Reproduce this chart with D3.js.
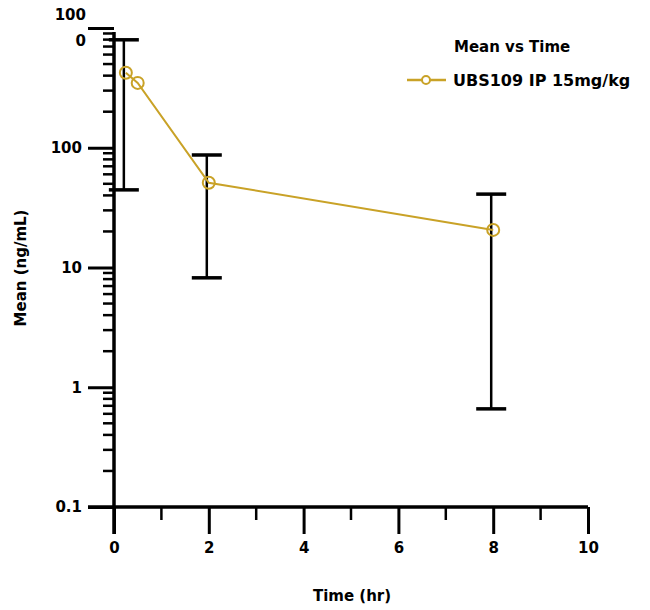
<!DOCTYPE html>
<html><head><meta charset="utf-8">
<script src="https://cdn.jsdelivr.net/npm/d3@7"></script>
<style>body{margin:0;background:#fff}text{font-family:"DejaVu Sans",Verdana,sans-serif;font-weight:bold}</style>
</head><body><svg id="c" width="650" height="610"></svg>
<script>
const times = [0.25, 0.5, 2, 8];
const means = [423, 348, 51, 20.6];
const errLow = [44.5, null, 8.2, 0.66];
const errHigh = [797, null, 87, 41];
const xTicks = [0, 2, 4, 6, 8, 10];
const yTicks = [0.1, 1, 10, 100, 1000];
const seriesName = "UBS109 IP 15mg/kg";
const legendTitle = "Mean vs Time";
const color = "#C9A227";

const svg = d3.select("#c");
const x = d3.scaleLinear().domain([0, 10]).range([114, 588]);
const y = d3.scaleLog().domain([0.1, 1000]).range([507, 28]);

// minor x ticks
const xMinor = d3.range(1, 10, 2);
svg.append("g").selectAll("line").data(xMinor).join("line")
  .attr("x1", d => x(d)).attr("x2", d => x(d))
  .attr("y1", y(0.1)).attr("y2", y(0.1) + 13)
  .attr("stroke", "#000").attr("stroke-width", 2.5);

// x axis
const xAxis = d3.axisBottom(x).tickValues(xTicks).tickSize(27).tickPadding(8).tickFormat(d3.format("d"));
const gx = svg.append("g").attr("transform", `translate(0,${y(0.1)})`).call(xAxis);
gx.select(".domain").attr("stroke-width", 3.5).attr("d", `M${x(0)-26},0H${x(10)}`);
gx.selectAll(".tick line").attr("stroke-width", 3);
gx.selectAll(".tick text").attr("font-size", 15).attr("fill", "#000");

// minor y ticks
const yMinor = [];
[0.1, 1, 10, 100].forEach(b => { for (let k = 2; k <= 9; k++) yMinor.push(b * k); });
svg.append("g").selectAll("line").data(yMinor).join("line")
  .attr("x1", x(0) - 11).attr("x2", x(0))
  .attr("y1", d => y(d)).attr("y2", d => y(d))
  .attr("stroke", "#000").attr("stroke-width", 2.5);

// y axis
const yAxis = d3.axisLeft(y).tickValues(yTicks).tickSize(26).tickPadding(6).tickFormat(d => String(d));
const gy = svg.append("g").attr("transform", `translate(${x(0)},0)`).call(yAxis);
gy.select(".domain").attr("stroke-width", 3.5).attr("d", `M0,${y(0.1)+27}V${y(1000)+4}`);
gy.selectAll(".tick line").attr("stroke-width", 3);
gy.selectAll(".tick text").attr("font-size", 15).attr("fill", "#000");
// wrap the 1000 label into two lines as in the reference
gy.selectAll(".tick text").filter(d => d === 1000).each(function() {
  const t = d3.select(this); t.text(null);
  t.append("tspan").attr("x", -28).attr("dy", "-0.55em").text("100");
  t.append("tspan").attr("x", -28).attr("dy", "1.7em").text("0");
});

// error bars
const eb = times.map((t, i) => ({t, lo: errLow[i], hi: errHigh[i]})).filter(d => d.lo != null);
const ge = svg.append("g").attr("stroke", "#000").attr("stroke-width", 2.5);
eb.forEach(d => {
  const cx = x(d.t) - 2;
  ge.append("line").attr("x1", cx).attr("x2", cx).attr("y1", y(d.hi)).attr("y2", y(d.lo));
  ge.append("line").attr("x1", cx - 15).attr("x2", cx + 15).attr("y1", y(d.hi)).attr("y2", y(d.hi)).attr("stroke-width", 3.5);
  ge.append("line").attr("x1", cx - 15).attr("x2", cx + 15).attr("y1", y(d.lo)).attr("y2", y(d.lo)).attr("stroke-width", 3.5);
});

// line
const pts = times.map((t, i) => [t, means[i]]);
svg.append("path").datum(pts)
  .attr("d", d3.line().x(d => x(d[0])).y(d => y(d[1])))
  .attr("fill", "none").attr("stroke", color).attr("stroke-width", 2);
svg.append("g").selectAll("circle").data(pts).join("circle")
  .attr("cx", d => x(d[0])).attr("cy", d => y(d[1])).attr("r", 6)
  .attr("fill", "none").attr("stroke", color).attr("stroke-width", 2);

// legend
svg.append("text").attr("x", 454).attr("y", 52).attr("font-size", 15).text(legendTitle);
svg.append("line").attr("x1", 407).attr("x2", 446).attr("y1", 80).attr("y2", 80)
  .attr("stroke", color).attr("stroke-width", 2.5);
svg.append("circle").attr("cx", 426).attr("cy", 80).attr("r", 4)
  .attr("fill", "#fff").attr("stroke", color).attr("stroke-width", 2);
svg.append("text").attr("x", 453).attr("y", 86).attr("font-size", 16).text(seriesName);

// axis titles
svg.append("text").attr("x", 352).attr("y", 601).attr("text-anchor", "middle").attr("font-size", 15).text("Time (hr)");
svg.append("text").attr("transform", "translate(26,268) rotate(-90)").attr("text-anchor", "middle").attr("font-size", 15).text("Mean (ng/mL)");
</script></body></html>
